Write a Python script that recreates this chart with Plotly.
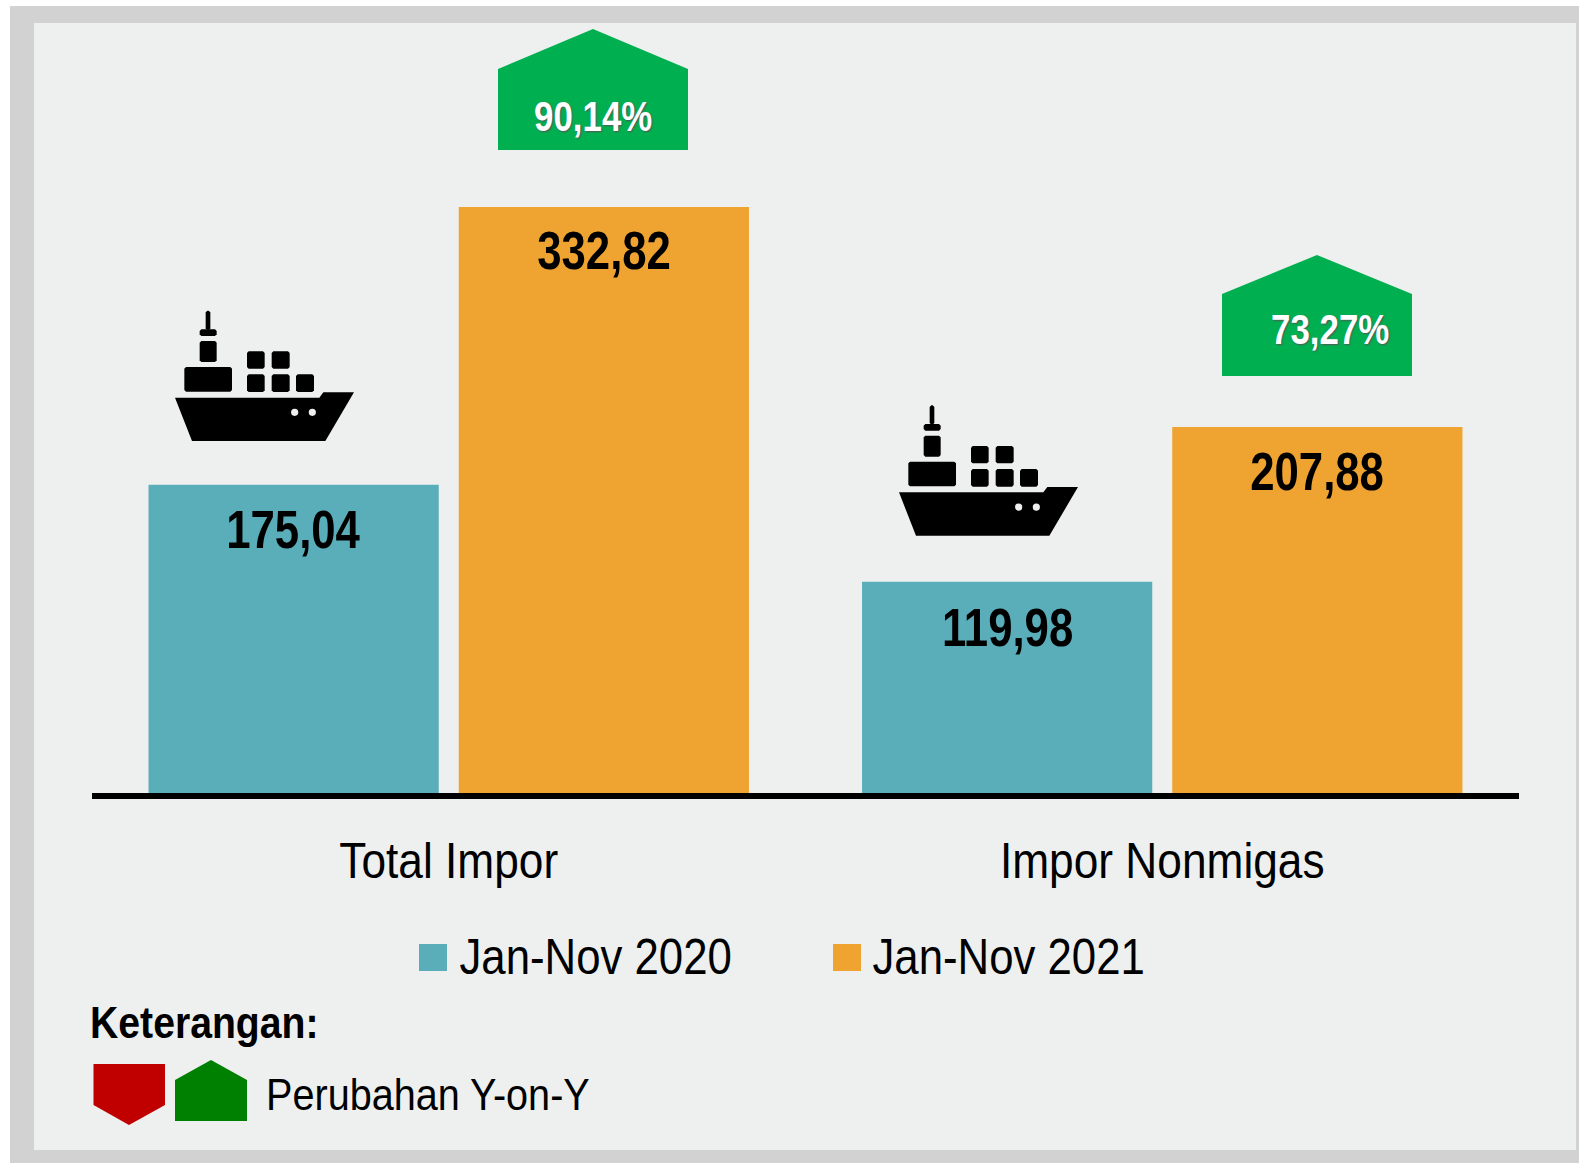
import json
import plotly.graph_objects as go

categories = ["Total Impor", "Impor Nonmigas"]
series_names = ["Jan-Nov 2020", "Jan-Nov 2021"]
values_2020 = [175.04, 119.98]
values_2021 = [332.82, 207.88]
changes = ["90,14%", "73,27%"]
legend_title = "Keterangan:"
legend_note = "Perubahan Y-on-Y"

W, H = 1579, 1163
TEAL, ORANGE = "#5AAEBA", "#EFA330"
BG, FRAME = "#EEF0EF", "#D2D2D2"
FONT = "Liberation Sans, Arial, sans-serif"
BASE_PX = 793
PX_PER_UNIT = 1.7607


def label(v):
    return f"{v:.2f}".replace(".", ",")


# horizontal squeeze per text, standing in for the missing narrow typeface
squeeze = {c: 0.83 for c in changes}
squeeze.update({label(v): 0.825 for v in values_2020 + values_2021})
squeeze.update({s: 0.875 for s in series_names})
squeeze.update({c: 0.885 for c in categories})
squeeze[legend_title] = 0.87
squeeze[legend_note] = 0.88


def fx(x):
    return x / W


def fy(y):
    return 1 - y / H


def rect(x0, y0, x1, y1, color):
    return dict(type="rect", xref="paper", yref="paper", x0=fx(x0), x1=fx(x1), y0=fy(y0), y1=fy(y1),
                fillcolor=color, line_width=0, layer="below")


def poly(points, color):
    d = "M" + " L".join(f"{fx(x):.5f},{fy(y):.5f}" for x, y in points) + " Z"
    return dict(type="path", xref="paper", yref="paper", path=d, fillcolor=color, line_width=0, layer="above")


def rrect(x0, y0, x1, y1, r=1.5):
    return [(x0 + r, y0), (x1 - r, y0), (x1, y0 + r), (x1, y1 - r), (x1 - r, y1), (x0 + r, y1), (x0, y1 - r), (x0, y0 + r)]


def ship(dx, dy):
    def t(x, y):
        return (150 + x / 3 + dx, 290 + y / 3 + dy)
    boxes = [(167, 62, 181, 120), (149, 118, 200, 138), (149, 153, 200, 216), (103, 231, 246, 305),
             (291, 184, 344, 236), (365, 184, 419, 236), (291, 253, 344, 306), (365, 253, 419, 306),
             (438, 253, 492, 306)]
    out = []
    for a, b, c, d in boxes:
        out.append(poly([t(p, q) for p, q in rrect(a, b, c, d, 5)], "black"))
    hull = [(75, 323), (508, 323), (520, 307), (612, 307), (526, 453), (126, 453)]
    out.append(poly([t(p, q) for p, q in hull], "black"))
    for cx in (434, 487):
        x, y = t(cx, 367)
        out.append(dict(type="circle", xref="paper", yref="paper", x0=fx(x - 3.6), x1=fx(x + 3.6),
                        y0=fy(y + 3.6), y1=fy(y - 3.6), fillcolor=BG, line_width=0, layer="above"))
    return out


def house(x0, x1, top, shoulder, bottom, color):
    return poly([((x0 + x1) / 2, top), (x1, shoulder), (x1, bottom), (x0, bottom), (x0, shoulder)], color)


def text(x, y, s, size, color="black", bold=False, shadow=None):
    font = dict(family=FONT, size=size, color=color, weight="bold" if bold else "normal")
    if shadow:
        font["shadow"] = shadow
    return dict(xref="paper", yref="paper", x=fx(x), y=fy(y), text=s, showarrow=False, font=font,
                xanchor="center", yanchor="middle", borderpad=0)


fig = go.Figure()
for name, vals, color in ((series_names[0], values_2020, TEAL), (series_names[1], values_2021, ORANGE)):
    fig.add_trace(go.Bar(x=categories, y=vals, name=name, marker=dict(color=color, line_width=0), showlegend=False))

shapes = [
    rect(10, 6, W, 1163, FRAME),
    rect(34, 23, 1576, 1150, BG),
    house(498, 688, 29, 69, 150, "#00B050"),
    house(1222, 1412, 255, 294, 376, "#00B050"),
    rect(419, 944, 447, 971, TEAL),
    rect(833, 944, 861, 971, ORANGE),
    poly([(93.5, 1064), (165, 1064), (165, 1105), (129, 1125), (93.5, 1105)], "#C00000"),
    house(175, 247, 1060, 1080, 1121, "#008000"),
]
shapes += ship(0, 0) + ship(724, 94.7)

annotations = [
    text(593, 116.5, changes[0], 42, "white", True, shadow="1px 1px 2px #555"),
    text(1330, 329.5, changes[1], 42, "white", True, shadow="1px 1px 2px #555"),
    text(595.5, 956.5, series_names[0], 50),
    text(1008, 956.5, series_names[1], 50),
    text(204.5, 1022, legend_title, 45, bold=True),
    text(427.5, 1094, legend_note, 45),
]
label_lifts = {values_2020[0]: -45, values_2020[1]: -46, values_2021[0]: -43, values_2021[1]: -45}
for i, cat in enumerate(categories):
    for vals, shift in ((values_2020, -155), (values_2021, 155)):
        annotations.append(dict(xref="x", yref="y", x=cat, y=vals[i], xshift=shift, yshift=label_lifts[vals[i]],
                                text=label(vals[i]), showarrow=False,
                                font=dict(family=FONT, size=53, color="black", weight="bold"), yanchor="middle"))

fig.update_layout(
    width=W, height=H, autosize=False, margin=dict(l=0, r=0, t=0, b=0, pad=0),
    paper_bgcolor="white", plot_bgcolor="rgba(0,0,0,0)", barmode="group", bargap=0.1304, bargroupgap=0.0645,
    showlegend=False, shapes=shapes, annotations=annotations,
    xaxis=dict(domain=[fx(92), fx(1519)], range=[-0.5, 1.5], type="category", categoryorder="array",
               categoryarray=categories, showline=True, linecolor="black", linewidth=6, ticks="",
               showgrid=False, zeroline=False, tickfont=dict(family=FONT, size=50, color="black"),
               ticklabelstandoff=19),
    yaxis=dict(domain=[fy(BASE_PX), 1], range=[0, BASE_PX / PX_PER_UNIT], visible=False, showgrid=False, zeroline=False),
)
post = """
document.body.style.margin='0';document.body.style.overflow='hidden';
var squeeze=%s;
document.querySelectorAll('.annotation-text, .xtick text').forEach(function(el){
  var s=squeeze[el.textContent];
  if(!s) return;
  el.setAttribute('lengthAdjust','spacingAndGlyphs');
  el.setAttribute('textLength',el.getComputedTextLength()*s);
});
""" % json.dumps(squeeze)
fig.write_html("out.html", config=dict(displayModeBar=False), post_script=post)
